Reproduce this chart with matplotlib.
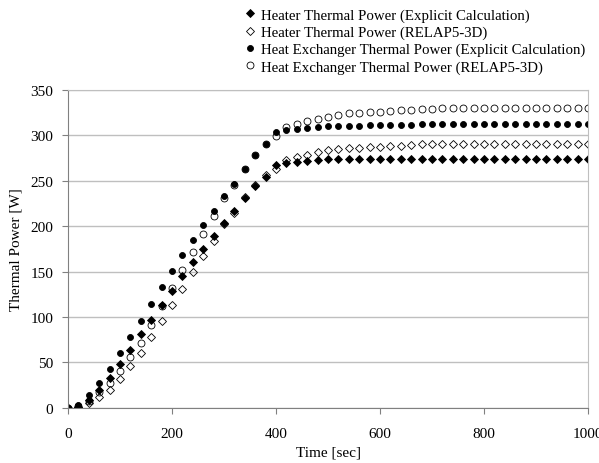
import numpy as np
import matplotlib
matplotlib.use("Agg")
import matplotlib.pyplot as plt

# time axis, one sample every 20 s
time_s = list(range(0, 1001, 20))

heater_explicit = [0, 1, 9, 19.5, 33, 48.5, 64, 81, 97, 113.5, 129, 145, 160.5, 175, 189.5,
                   203.5, 216.5, 231, 244, 254.5, 267, 270, 271, 272, 273, 273.5, 274, 274.2,
                   274.4, 274.5, 274.5, 274.5, 274.5, 274.5, 274.5, 274.5, 274.5, 274.5,
                   274.5, 274.5, 274.5, 274.5, 274.5, 274.5, 274.5, 274.5, 274.5, 274.5,
                   274.5, 274.5, 274.5]
heater_relap = [0, 0.5, 5, 11.5, 20, 32, 46, 60, 78, 96, 113.5, 131, 149, 167, 184, 202, 215,
                232, 245, 256, 263.5, 273, 276, 278, 282, 284, 285, 286, 286.5, 287, 287.5,
                288, 288.5, 289.5, 290, 290.5, 291, 291, 291, 291, 291, 291, 291, 291, 291,
                291, 291, 291, 291, 291, 291]
hx_explicit = [0, 3.5, 14, 27.5, 43, 60, 78, 96, 114.5, 133, 150.5, 168, 185, 201, 217, 233,
               246.5, 263.5, 278, 290.5, 304, 306, 307.5, 308.5, 309.2, 310, 310, 310.5,
               310.7, 311, 311, 311.3, 311.5, 311.7, 312, 312, 312, 312, 312, 312, 312, 312,
               312, 312, 312, 312, 312, 312, 312, 312, 312]
hx_relap = [0, 2, 7.5, 17.5, 27, 40, 56, 71.5, 91.5, 111.5, 132, 152, 172, 191, 211.5, 231,
            245.5, 263.5, 278, 290, 299.5, 309, 313, 315.5, 318, 320.5, 322.5, 324.5, 325,
            325.5, 326, 327, 327.5, 328, 329, 329.5, 330, 330, 330, 330, 330, 330, 330, 330,
            330, 330, 330, 330, 330, 330, 330]

labels = ["Heater Thermal Power (Explicit Calculation)",
          "Heater Thermal Power (RELAP5-3D)",
          "Heat Exchanger Thermal Power (Explicit Calculation)",
          "Heat Exchanger Thermal Power (RELAP5-3D)"]

plt.rcParams['font.family'] = ['Liberation Serif', 'DejaVu Serif']
plt.rcParams['font.size'] = 11

fig = plt.figure(figsize=(5.99, 4.64), dpi=100)
ax = fig.add_axes([68 / 599, 1 - 408.7 / 464, 520 / 599, 317.7 / 464])

ax.plot(time_s, heater_explicit, ls='none', marker='D', ms=3.6, mfc='black', mec='black',
        mew=0.6, label=labels[0])
ax.plot(time_s, heater_relap, ls='none', marker='D', ms=3.6, mfc='none', mec='black',
        mew=0.6, label=labels[1])
ax.plot(time_s, hx_explicit, ls='none', marker='o', ms=4.3, mfc='black', mec='black',
        mew=0.6, label=labels[2])
ax.plot(time_s, hx_relap, ls='none', marker='o', ms=5, mfc='none', mec='black',
        mew=0.6, label=labels[3])

ax.set_xlim(0, 1000)
ax.set_ylim(0, 350)
ax.set_xticks(np.arange(0, 1001, 200))
ax.set_yticks(np.arange(0, 351, 50))
ax.yaxis.grid(True, color='#bfbfbf', lw=1)
ax.set_axisbelow(True)
for side in ['top', 'right']:
    ax.spines[side].set_color('#bfbfbf')
for side in ['left', 'bottom']:
    ax.spines[side].set_color('#808080')
ax.tick_params(axis='x', direction='out', length=4, color='#808080', pad=10)
ax.tick_params(axis='y', direction='out', length=4, color='#808080', pad=6.5)

ax.set_xlabel("Time [sec]", labelpad=4)
ax.set_ylabel("Thermal Power [W]", labelpad=6)

leg = fig.legend(loc='upper left', bbox_to_anchor=(246 / 599, 1 - 9 / 464), frameon=False,
                 handlelength=0.6, handletextpad=0.4, labelspacing=0.25, borderpad=0,
                 borderaxespad=0, fontsize=10.75)

fig.savefig("out.png", dpi=100)
